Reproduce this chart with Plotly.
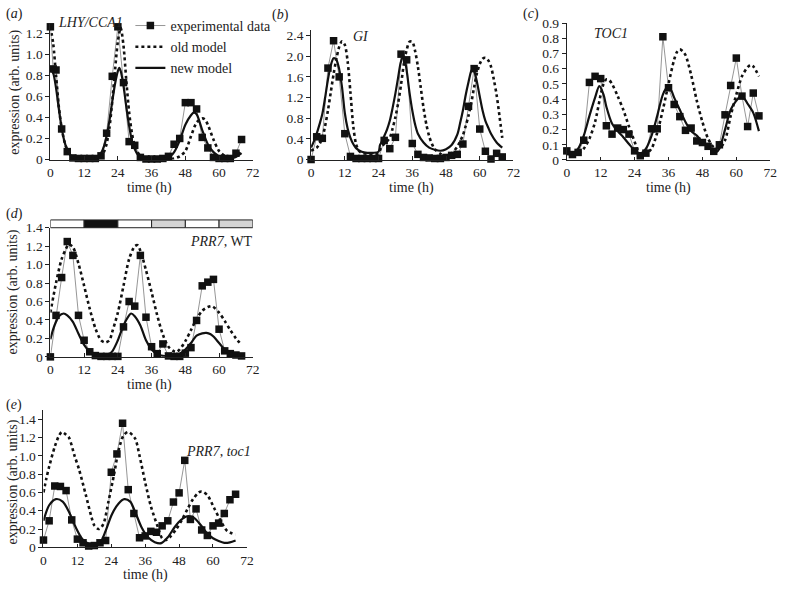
import plotly.graph_objects as go

FONT = "Liberation Serif"
W, H = 795, 589

# ---------------- tick values / labels ----------------
x_ticks = [0, 12, 24, 36, 48, 60, 72]
x_ticktext = ["0", "12", "24", "36", "48", "60", "72"]
y_ticks_a = [0, 0.2, 0.4, 0.6, 0.8, 1.0, 1.2]
y_text_a = ["0", "0.2", "0.4", "0.6", "0.8", "1.0", "1.2"]
y_ticks_b = [0, 0.4, 0.8, 1.2, 1.6, 2.0, 2.4]
y_text_b = ["0", "0.4", "0.8", "1.2", "1.6", "2.0", "2.4"]
y_ticks_c = [0, 0.1, 0.2, 0.3, 0.4, 0.5, 0.6, 0.7, 0.8, 0.9]
y_text_c = ["0", "0.1", "0.2", "0.3", "0.4", "0.5", "0.6", "0.7", "0.8", "0.9"]
y_ticks_de = [0, 0.2, 0.4, 0.6, 0.8, 1.0, 1.2, 1.4]
y_text_de = ["0", "0.2", "0.4", "0.6", "0.8", "1.0", "1.2", "1.4"]

# ---------------- experimental data ----------------
t_exp = [0, 2, 4, 6, 8, 10, 12, 14, 16, 18, 20, 22, 24, 26, 28, 30, 32, 34,
         36, 38, 40, 42, 44, 46, 48, 50, 52, 54, 56, 58, 60, 62, 64, 66, 68]
t_exp_a = [0, 1, 2, 4, 6, 8, 10, 12, 14, 16, 18, 20, 22, 24, 26, 28, 30, 32, 34,
           36, 38, 40, 42, 44, 46, 48, 50, 52, 54, 56, 58, 60, 62, 64, 66, 68]
exp_a = [1.26, 0.86, 0.85, 0.29, 0.075, 0.015, 0.01, 0.01, 0.01, 0.01, 0.035, 0.25,
         0.79, 1.26, 0.73, 0.17, 0.135, 0.02, 0.005, 0.005, 0.005, 0.01, 0.03, 0.145,
         0.2, 0.54, 0.54, 0.48, 0.21, 0.11, 0.02, 0.01, 0.01, 0.01, 0.06, 0.19]
exp_b = [0.0, 0.44, 0.41, 1.77, 2.3, 1.6, 0.5, 0.06, 0.02, 0.02, 0.02, 0.02, 0.02,
         0.37, 0.21, 0.43, 2.04, 1.93, 0.31, 0.1, 0.04, 0.03, 0.02, 0.02, 0.04, 0.08,
         0.1, 0.3, 1.03, 1.76, 0.59, 0.16, 0.01, 0.12, 0.05]
exp_c = [0.06, 0.036, 0.05, 0.13, 0.51, 0.55, 0.535, 0.225, 0.17, 0.21, 0.2, 0.17,
         0.06, 0.028, 0.045, 0.205, 0.205, 0.81, 0.475, 0.365, 0.285, 0.195, 0.21,
         0.125, 0.115, 0.09, 0.057, 0.1, 0.297, 0.49, 0.67, 0.42, 0.22, 0.44, 0.29]
exp_d = [0.0, 0.45, 0.86, 1.25, 1.1, 0.45, 0.18, 0.055, 0.014, 0.005, 0.005, 0.005,
         0.005, 0.325, 0.6, 0.55, 1.1, 0.43, 0.11, 0.035, 0.14, 0.01, 0.005, 0.005,
         0.04, 0.1, 0.395, 0.77, 0.81, 0.84, 0.3, 0.065, 0.035, 0.02, 0.01]
exp_e = [0.08, 0.29, 0.67, 0.665, 0.62, 0.3, 0.09, 0.05, 0.015, 0.02, 0.05, 0.075,
         0.82, 1.02, 1.355, 0.63, 0.37, 0.105, 0.125, 0.175, 0.165, 0.235, 0.29,
         0.495, 0.595, 0.95, 0.305, 0.42, 0.19, 0.13, 0.235, 0.265, 0.37, 0.52, 0.58]

# ---------------- model curves ----------------
old_a_t = [0, 1, 2, 3, 4, 5, 6, 7, 8, 10, 14, 17, 18, 19, 20, 21, 22, 23, 24, 25, 26,
           27, 28, 29, 30, 31, 32, 34, 38, 42, 44, 46, 48, 50, 52, 54, 55, 56, 58, 60,
           62, 64, 66, 68]
old_a = [1.26, 1.1, 0.8, 0.5, 0.3, 0.17, 0.09, 0.045, 0.02, 0.005, 0.003, 0.01, 0.03,
         0.07, 0.15, 0.3, 0.55, 0.85, 1.12, 1.25, 1.08, 0.75, 0.45, 0.25, 0.13, 0.07,
         0.035, 0.01, 0.002, 0.003, 0.01, 0.03, 0.08, 0.22, 0.35, 0.39, 0.38, 0.33,
         0.19, 0.08, 0.035, 0.02, 0.035, 0.075]
new_a_t = [0, 1, 2, 3, 4, 5, 6, 7, 8, 10, 14, 16, 17, 18, 19, 20, 21, 22, 23, 24, 24.5,
           25, 26, 27, 28, 29, 30, 31, 32, 34, 38, 41, 43, 44, 46, 48, 50, 51, 52, 54,
           56, 58, 60, 62, 64, 66, 68]
new_a = [0.86, 0.82, 0.68, 0.48, 0.3, 0.17, 0.09, 0.045, 0.02, 0.005, 0.003, 0.01,
         0.03, 0.06, 0.12, 0.22, 0.37, 0.55, 0.72, 0.84, 0.87, 0.84, 0.7, 0.5, 0.32,
         0.18, 0.1, 0.05, 0.025, 0.008, 0.003, 0.01, 0.04, 0.07, 0.18, 0.33, 0.42,
         0.445, 0.43, 0.28, 0.145, 0.07, 0.03, 0.012, 0.01, 0.025, 0.06]

old_b_t = [0, 1, 2, 3, 4, 5, 6, 7, 8, 9, 10, 11, 12, 13, 14, 15, 16, 17, 18, 20, 22,
           24, 25, 26, 27, 28, 29, 30, 31, 32, 33, 34, 35, 36, 37, 38, 39, 40, 41, 42,
           43, 44, 46, 48, 50, 52, 53, 54, 55, 56, 57, 58, 59, 60, 61, 62, 63, 64, 65,
           66, 67, 68]
old_b = [0.17, 0.2, 0.23, 0.3, 0.42, 0.65, 0.95, 1.3, 1.65, 1.95, 2.18, 2.29, 2.22,
         1.9, 1.3, 0.65, 0.3, 0.17, 0.13, 0.11, 0.1, 0.12, 0.25, 0.3, 0.35, 0.42, 0.6,
         0.82, 1.1, 1.45, 1.85, 2.12, 2.28, 2.28, 2.1, 1.8, 1.4, 1.0, 0.68, 0.45, 0.3,
         0.2, 0.11, 0.08, 0.12, 0.25, 0.35, 0.47, 0.65, 0.85, 1.1, 1.4, 1.67, 1.85,
         1.95, 1.97, 1.92, 1.8, 1.55, 1.25, 0.85, 0.42]
new_b_t = [0, 1, 2, 3, 4, 5, 6, 7, 8, 9, 10, 11, 12, 13, 14, 15, 16, 18, 20, 22, 24,
           24.5, 25, 26, 27, 28, 29, 30, 31, 32, 33, 34, 35, 36, 37, 38, 40, 42, 44,
           46, 48, 50, 52, 53, 54, 55, 56, 57, 57.5, 58, 59, 60, 61, 62, 63, 64, 66, 68]
new_b = [0.23, 0.35, 0.5, 0.68, 0.88, 1.2, 1.55, 1.82, 1.96, 1.93, 1.75, 1.4, 0.9,
         0.6, 0.42, 0.3, 0.22, 0.15, 0.13, 0.13, 0.15, 0.28, 0.33, 0.45, 0.58, 0.75,
         1.0, 1.28, 1.6, 1.9, 2.0, 1.72, 1.3, 0.95, 0.68, 0.5, 0.33, 0.23, 0.19, 0.17,
         0.2, 0.28, 0.48, 0.7, 0.95, 1.25, 1.5, 1.72, 1.75, 1.72, 1.5, 1.22, 0.95,
         0.75, 0.62, 0.5, 0.33, 0.23]

old_c_t = [0, 2, 4, 6, 8, 10, 12, 13, 14, 15, 16, 18, 20, 22, 24, 25, 26, 28, 30, 32,
           34, 36, 38, 39, 40, 41, 42, 44, 46, 48, 50, 52, 54, 56, 58, 60, 62, 64, 65,
           66, 68]
old_c = [0.04, 0.035, 0.045, 0.075, 0.14, 0.25, 0.43, 0.5, 0.53, 0.525, 0.5, 0.42,
         0.33, 0.22, 0.12, 0.07, 0.035, 0.04, 0.075, 0.18, 0.33, 0.5, 0.66, 0.71,
         0.727, 0.715, 0.69, 0.56, 0.39, 0.25, 0.14, 0.085, 0.075, 0.13, 0.29, 0.43,
         0.55, 0.61, 0.625, 0.615, 0.55]
new_c_t = [0, 2, 4, 6, 8, 10, 11.5, 13, 14, 16, 18, 20, 22, 24, 26, 28, 30, 32, 34,
           35.5, 37, 38, 40, 42, 44, 46, 48, 50, 52, 53, 54, 56, 58, 60, 61.6, 63, 64,
           66, 68]
new_c = [0.053, 0.042, 0.074, 0.16, 0.29, 0.41, 0.485, 0.43, 0.35, 0.24, 0.19, 0.15,
         0.105, 0.064, 0.042, 0.074, 0.16, 0.29, 0.43, 0.477, 0.455, 0.41, 0.33, 0.25,
         0.19, 0.16, 0.117, 0.085, 0.06, 0.053, 0.074, 0.2, 0.33, 0.39, 0.42, 0.4,
         0.37, 0.31, 0.19]

old_d_t = [0, 2, 4, 6, 6.5, 8, 10, 12, 14, 16, 18, 19.5, 21, 22, 24, 26, 28, 30, 31,
           32, 34, 36, 38, 40, 42, 44, 45, 46, 48, 50, 52, 54, 56, 57.5, 60, 62, 64,
           66, 68]
old_d = [0.48, 0.8, 1.06, 1.2, 1.22, 1.19, 1.01, 0.77, 0.52, 0.31, 0.18, 0.155, 0.18,
         0.27, 0.48, 0.77, 1.06, 1.2, 1.21, 1.15, 0.94, 0.7, 0.45, 0.24, 0.11, 0.06,
         0.055, 0.08, 0.17, 0.29, 0.41, 0.5, 0.54, 0.55, 0.48, 0.39, 0.29, 0.2, 0.13]
new_d_t = [0, 1, 2, 3, 4.7, 6, 8, 10, 12, 14, 16, 18, 20, 22, 24, 26, 28, 28.7, 30, 32,
           34, 36, 38, 40, 42, 44, 46, 48, 50, 52, 54, 55.5, 57, 58, 60, 62, 64, 66, 68]
new_d = [0.19, 0.3, 0.38, 0.44, 0.47, 0.45, 0.38, 0.25, 0.13, 0.055, 0.02, 0.005,
         0.01, 0.06, 0.18, 0.34, 0.45, 0.47, 0.44, 0.34, 0.18, 0.08, 0.03, 0.01, 0.008,
         0.015, 0.035, 0.08, 0.15, 0.23, 0.255, 0.26, 0.245, 0.22, 0.15, 0.08, 0.04,
         0.015, 0.006]

old_e_t = [0, 1, 2, 4, 5.5, 6.5, 8, 9, 11, 12.6, 15, 17, 18, 19.5, 20.5, 21.5, 23, 25,
           26.5, 28.3, 30, 32.4, 34, 36, 38, 40.5, 42, 43.5, 45, 47, 49, 51, 53, 55, 56,
           58, 60.4, 62.7, 65, 68]
old_e = [0.6, 0.75, 0.88, 1.1, 1.22, 1.26, 1.23, 1.2, 1.0, 0.85, 0.57, 0.33, 0.24, 0.2,
         0.22, 0.28, 0.5, 0.8, 1.05, 1.22, 1.26, 1.19, 1.0, 0.71, 0.45, 0.22, 0.1, 0.08,
         0.12, 0.2, 0.3, 0.42, 0.53, 0.6, 0.61, 0.57, 0.43, 0.29, 0.18, 0.14]
new_e_t = [0, 2, 4.4, 6.8, 9, 11.4, 13.8, 16, 18.4, 20.2, 22, 24.2, 26.6, 28.6, 30.7,
           32.4, 34.7, 37, 39.4, 41.7, 44, 46.4, 48.7, 51, 53.4, 56, 58, 60, 62, 64, 66,
           68]
new_e = [0.29, 0.46, 0.527, 0.5, 0.39, 0.22, 0.09, 0.04, 0.02, 0.057, 0.18, 0.36, 0.48,
         0.527, 0.5, 0.39, 0.22, 0.11, 0.057, 0.046, 0.11, 0.22, 0.3, 0.34, 0.32, 0.23,
         0.15, 0.1, 0.07, 0.05, 0.055, 0.075]

# light regime bar shown above panel (d)
light_edges = [0, 12, 24, 36, 48, 60, 72]
light_colors = ["#ffffff", "#111111", "#ffffff", "#d4d4d4", "#ffffff", "#d4d4d4"]

# ---------------- styles ----------------
EXP_LINE = dict(color="#8a8a8a", width=0.9)
EXP_MARK = dict(symbol="square", size=7.5, color="#111111")
OLD_LINE = dict(color="#111111", width=2.6, dash="dot", shape="spline", smoothing=0.8)
NEW_LINE = dict(color="#111111", width=2.2, shape="spline", smoothing=0.8)

panels = [
    ("x", "y", t_exp_a, exp_a, old_a_t, old_a, new_a_t, new_a),
    ("x2", "y2", t_exp, exp_b, old_b_t, old_b, new_b_t, new_b),
    ("x3", "y3", t_exp, exp_c, old_c_t, old_c, new_c_t, new_c),
    ("x4", "y4", t_exp, exp_d, old_d_t, old_d, new_d_t, new_d),
    ("x5", "y5", t_exp, exp_e, old_e_t, old_e, new_e_t, new_e),
]

fig = go.Figure()
for i, (xa, ya, te, ye, to, yo, tn, yn) in enumerate(panels):
    first = i == 0
    fig.add_trace(go.Scatter(x=te, y=ye, mode="lines+markers", line=EXP_LINE,
                             marker=EXP_MARK, name="experimental data",
                             showlegend=first, xaxis=xa, yaxis=ya, cliponaxis=False))
    fig.add_trace(go.Scatter(x=to, y=yo, mode="lines", line=OLD_LINE,
                             name="old model", showlegend=first,
                             xaxis=xa, yaxis=ya, cliponaxis=False))
    fig.add_trace(go.Scatter(x=tn, y=yn, mode="lines", line=NEW_LINE,
                             name="new model", showlegend=first,
                             xaxis=xa, yaxis=ya, cliponaxis=False))


def px_x(p):
    return p / W


def px_y(p):
    return 1 - p / H


TICKFONT = dict(family=FONT, size=13.5, color="#222222")
AX = dict(showline=True, linecolor="#222222", linewidth=1, showgrid=False,
          zeroline=False, tickcolor="#222222", tickwidth=1, tickfont=TICKFONT)

# (x-left px, x-right px, y-zero px, y-top px, yrange, yticks, ytext)
geo = [
    (48, 253, 156.5, 16, 1.3, y_ticks_a, y_text_a),
    (312, 517, 156.5, 24, 2.5, y_ticks_b, y_text_b),
    (571, 777, 157, 16.5, 0.9, y_ticks_c, y_text_c),
    (48, 253, 359, 226.5, 1.4, y_ticks_de, y_text_de),
    (41, 247, 554.5, 413.5, 1.5, y_ticks_de, y_text_de),
]

layout = {}
for i, (xl, xr, yz, yt, ymax, yv, ytx) in enumerate(geo):
    n = "" if i == 0 else str(i + 1)
    layout["xaxis" + n] = dict(AX, domain=[px_x(xl), px_x(xr)], range=[0, 72],
                               tickvals=x_ticks, ticktext=x_ticktext,
                               ticks="inside", ticklen=3.5, ticklabelstandoff=0,
                               anchor="y" + n)
    layout["yaxis" + n] = dict(AX, domain=[px_y(yz), px_y(yt)], range=[0, ymax],
                               tickvals=yv, ticktext=ytx, anchor="x" + n,
                               ticks="outside", ticklen=4)
    # overlay axis so that the x ticks cross the axis line
    m = str(i + 6)
    layout["xaxis" + m] = dict(overlaying="x" + n, anchor="y" + n, range=[0, 72],
                               tickvals=x_ticks, showticklabels=False, ticks="outside",
                               ticklen=3.5, tickcolor="#222222", showline=False,
                               showgrid=False, zeroline=False)

fig.update_layout(**layout)

# light/dark bar for panel (d)
shapes = []
for k, col in enumerate(light_colors):
    shapes.append(dict(type="rect", xref="x4", yref="paper",
                       x0=light_edges[k], x1=light_edges[k + 1],
                       y0=px_y(226.5), y1=px_y(218.5),
                       fillcolor=col, line=dict(color="#222222", width=1)))

ann = []


def text(x, y, s, size=14, angle=0, xanchor="center", italic=False):
    ann.append(dict(x=px_x(x), y=px_y(y), xref="paper", yref="paper", text=s,
                    showarrow=False, xanchor=xanchor, yanchor="middle",
                    textangle=angle,
                    font=dict(family=FONT, size=size, color="#222222",
                              style="italic" if italic else "normal")))


text(1, 7, "(<i>a</i>)", xanchor="left")
text(270, 8, "(<i>b</i>)", xanchor="left")
text(525, 7, "(<i>c</i>)", xanchor="left")
text(1, 212, "(<i>d</i>)", xanchor="left")
text(1, 408, "(<i>e</i>)", xanchor="left")

text(54, 16, "LHY/CCA1", xanchor="left", italic=True)
text(363, 30, "GI", italic=True)
text(616, 27, "TOC1", italic=True)
text(255, 241, "<i>PRR7</i>, WT", xanchor="right")
text(253, 456, "<i>PRR7</i>, <i>toc1</i>", xanchor="right")

text(12, 87, "expression (arb. units)", angle=-90)
text(10, 292, "expression (arb. units)", angle=-90)
text(10, 487, "expression (arb. units)", angle=-90)

text(148, 185.5, "time (h)")
text(414, 185.5, "time (h)")
text(674, 186, "time (h)")
text(148, 388, "time (h)")
text(144, 582.5, "time (h)")

fig.update_layout(
    width=W, height=H, margin=dict(l=0, r=0, t=0, b=0),
    paper_bgcolor="white", plot_bgcolor="white",
    font=dict(family=FONT, size=14, color="#222222"),
    shapes=shapes, annotations=ann,
    legend=dict(x=px_x(129), y=px_y(3), xanchor="left", yanchor="top",
                bgcolor="rgba(0,0,0,0)", font=dict(family=FONT, size=14),
                tracegroupgap=0),
)

fig.write_html("out.html",
               config={"displayModeBar": False},
               post_script="document.body.style.margin='0px';"
                           "document.body.style.overflow='hidden';")
